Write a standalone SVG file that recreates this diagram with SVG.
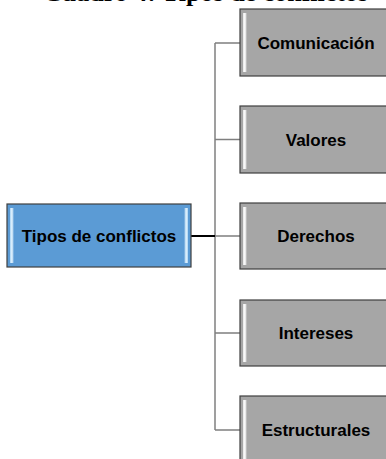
<svg xmlns="http://www.w3.org/2000/svg" width="386" height="459" viewBox="0 0 386 459">
<style>
.lbl{font-family:"Liberation Sans",Arial,sans-serif;font-weight:bold;font-size:17px;fill:#000;text-anchor:middle}
.title{font-family:"Liberation Serif","Times New Roman",serif;font-weight:bold;font-size:26px;fill:#000}
.gbox{fill:#a6a6a6;stroke:#3f3f3f;stroke-width:1.2}
.bbox{fill:#5b9bd5;stroke:#3f3f3f;stroke-width:1.2}
.conn{stroke:#7f7f7f;stroke-width:1.5;fill:none}
</style>
<defs>
<linearGradient id="gl" x1="0" y1="0" x2="1" y2="0">
<stop offset="0" stop-color="#e6e6e6"/><stop offset="0.5" stop-color="#ffffff"/><stop offset="1" stop-color="#a6a6a6"/>
</linearGradient>
<linearGradient id="bl" x1="0" y1="0" x2="1" y2="0">
<stop offset="0" stop-color="#a9d2f2"/><stop offset="0.5" stop-color="#e8f6ff"/><stop offset="1" stop-color="#5b9bd5"/>
</linearGradient>
<linearGradient id="br" x1="0" y1="0" x2="1" y2="0">
<stop offset="0" stop-color="#5b9bd5"/><stop offset="0.5" stop-color="#e8f6ff"/><stop offset="1" stop-color="#a9d2f2"/>
</linearGradient>
</defs>
<text class="title" x="43" y="0.5">Cuadro 4: Tipos de conflictos</text>
<g id="connectors">
<path class="conn" d="M215,43 V430"/>
<path class="conn" d="M215,43 H240 M215,139.5 H240 M215,236 H240 M215,333 H240 M215,430 H240"/>
<path d="M191,236 H215" stroke="#000" stroke-width="2" fill="none"/>
</g>
<g id="tipos">
<rect class="bbox" x="7" y="204" width="184" height="63"/>
<rect x="10" y="208" width="4" height="55" fill="url(#bl)"/>
<rect x="184" y="208" width="4" height="55" fill="url(#br)"/>
<text class="lbl" x="99" y="242">Tipos de conflictos</text>
</g>
<g id="comunicacion">
<rect class="gbox" x="240" y="9" width="152" height="67"/>
<rect x="243" y="13" width="4" height="59" fill="url(#gl)"/>
<text class="lbl" x="316" y="49">Comunicación</text>
</g>
<g id="valores">
<rect class="gbox" x="240" y="106" width="152" height="67"/>
<rect x="243" y="110" width="4" height="59" fill="url(#gl)"/>
<text class="lbl" x="316" y="145.5">Valores</text>
</g>
<g id="derechos">
<rect class="gbox" x="240" y="203" width="152" height="66"/>
<rect x="243" y="207" width="4" height="58" fill="url(#gl)"/>
<text class="lbl" x="316" y="242">Derechos</text>
</g>
<g id="intereses">
<rect class="gbox" x="240" y="300" width="152" height="66"/>
<rect x="243" y="304" width="4" height="58" fill="url(#gl)"/>
<text class="lbl" x="316" y="339">Intereses</text>
</g>
<g id="estructurales">
<rect class="gbox" x="240" y="396" width="152" height="67"/>
<rect x="243" y="400" width="4" height="59" fill="url(#gl)"/>
<text class="lbl" x="316" y="436">Estructurales</text>
</g>
</svg>
